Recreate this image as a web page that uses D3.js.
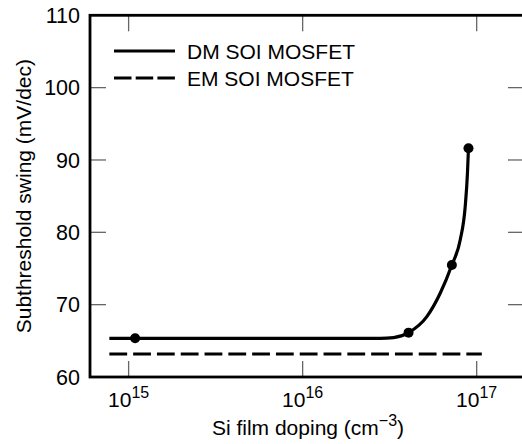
<!DOCTYPE html>
<html>
<head>
<meta charset="utf-8">
<script src="https://cdn.jsdelivr.net/npm/d3@7"></script>
<style>
  body { margin: 0; background: #fff; }
  text { font-family: "Liberation Sans", Arial, Helvetica, sans-serif; fill: #000; }
</style>
</head>
<body>
<div id="chart"></div>
<script>
// DM SOI MOSFET curve (doping in cm^-3, swing in mV/dec)
const dmDoping = [7.75e14, 1.09e15, 2.79e16, 3.33e16, 4.06e16, 5.17e16, 6.17e16, 7.2e16, 8.04e16, 8.59e16, 8.85e16, 8.97e16];
const dmSwing  = [65.35, 65.35, 65.35, 65.45, 66.13, 68.34, 71.57, 75.49, 78.94, 83.55, 88.17, 91.62];
// measured points drawn as dots
const dmDotDoping = [1.09e15, 4.06e16, 7.2e16, 8.97e16];
const dmDotSwing  = [65.35, 66.13, 75.49, 91.62];
// EM SOI MOSFET
const emDoping = [7.75e14, 1.07e17];
const emSwing  = [63.18, 63.18];

const xTicks = [1e15, 1e16, 1e17];
const xTickExp = ["15", "16", "17"];
const yTicks = [60, 70, 80, 90, 100, 110];
const legendLabels = ["DM SOI MOSFET", "EM SOI MOSFET"];

const W = 522, H = 444;
const plotL = 90, plotR = 524, plotT = 15.3, plotB = 377;
const tickLen = 16;

const svg = d3.select("#chart").append("svg")
    .attr("width", W)
    .attr("height", H);

const x = d3.scaleLog().domain([6.0e14, 1.87e17]).range([plotL, plotR]);
const y = d3.scaleLinear().domain([60, 110]).range([plotB, plotT]);

// ticks (inward, grey) on all four sides
const ticks = svg.append("g").attr("stroke", "#666").attr("stroke-width", 1.3);
xTicks.forEach(t => {
    ticks.append("line").attr("x1", x(t)).attr("x2", x(t)).attr("y1", plotB).attr("y2", plotB - tickLen);
    ticks.append("line").attr("x1", x(t)).attr("x2", x(t)).attr("y1", plotT).attr("y2", plotT + tickLen);
});
yTicks.forEach(t => {
    ticks.append("line").attr("x1", plotL).attr("x2", plotL + tickLen).attr("y1", y(t)).attr("y2", y(t));
    ticks.append("line").attr("x1", plotR).attr("x2", plotR - tickLen).attr("y1", y(t)).attr("y2", y(t));
});

// frame
svg.append("rect")
    .attr("x", plotL).attr("y", plotT)
    .attr("width", plotR - plotL).attr("height", plotB - plotT)
    .attr("fill", "none")
    .attr("stroke", "#000")
    .attr("stroke-width", 2.8);

// y tick labels
svg.append("g").selectAll("text")
    .data(yTicks).enter().append("text")
    .attr("x", plotL - 10)
    .attr("y", d => y(d))
    .attr("dy", "0.36em")
    .attr("text-anchor", "end")
    .attr("font-size", 21.5)
    .text(d => d);

// x tick labels as powers of ten
const xl = svg.append("g").selectAll("text")
    .data(xTicks).enter().append("text")
    .attr("x", d => x(d))
    .attr("y", 407)
    .attr("text-anchor", "middle")
    .attr("font-size", 21);
xl.append("tspan").text("10");
xl.append("tspan").attr("dy", -9).attr("font-size", 16).text((d, i) => xTickExp[i]);

// axis titles
const xt = svg.append("text")
    .attr("x", 308).attr("y", 435)
    .attr("text-anchor", "middle")
    .attr("font-size", 21);
xt.append("tspan").text("Si film doping (cm");
xt.append("tspan").attr("dy", -9).attr("font-size", 16).text("\u22123");
xt.append("tspan").attr("dy", 9).text(")");

svg.append("text")
    .attr("transform", `translate(31,${(plotT + plotB) / 2}) rotate(-90)`)
    .attr("text-anchor", "middle")
    .attr("font-size", 21)
    .text("Subthreshold swing (mV/dec)");

// curves
const line = d3.line()
    .x(d => x(d[0]))
    .y(d => y(d[1]))
    .curve(d3.curveMonotoneX);

svg.append("path")
    .datum(emDoping.map((d, i) => [d, emSwing[i]]))
    .attr("fill", "none")
    .attr("stroke", "#000")
    .attr("stroke-width", 3.2)
    .attr("stroke-dasharray", "17.8 6")
    .attr("d", line);

svg.append("path")
    .datum(dmDoping.map((d, i) => [d, dmSwing[i]]))
    .attr("fill", "none")
    .attr("stroke", "#000")
    .attr("stroke-width", 3.2)
    .attr("d", line);

svg.append("g").selectAll("circle")
    .data(dmDotDoping.map((d, i) => [d, dmDotSwing[i]]))
    .enter().append("circle")
    .attr("cx", d => x(d[0]))
    .attr("cy", d => y(d[1]))
    .attr("r", 5)
    .attr("fill", "#000");

// legend
const legend = svg.append("g");
legendLabels.forEach((lab, i) => {
    const ly = 51 + i * 27;
    legend.append("line")
        .attr("x1", 114).attr("x2", 175)
        .attr("y1", ly).attr("y2", ly)
        .attr("stroke", "#000")
        .attr("stroke-width", 3.2)
        .attr("stroke-dasharray", i === 1 ? "17.5 4.2" : null);
    legend.append("text")
        .attr("x", 187).attr("y", ly)
        .attr("dy", "0.36em")
        .attr("font-size", 21)
        .text(lab);
});
</script>
</body>
</html>
